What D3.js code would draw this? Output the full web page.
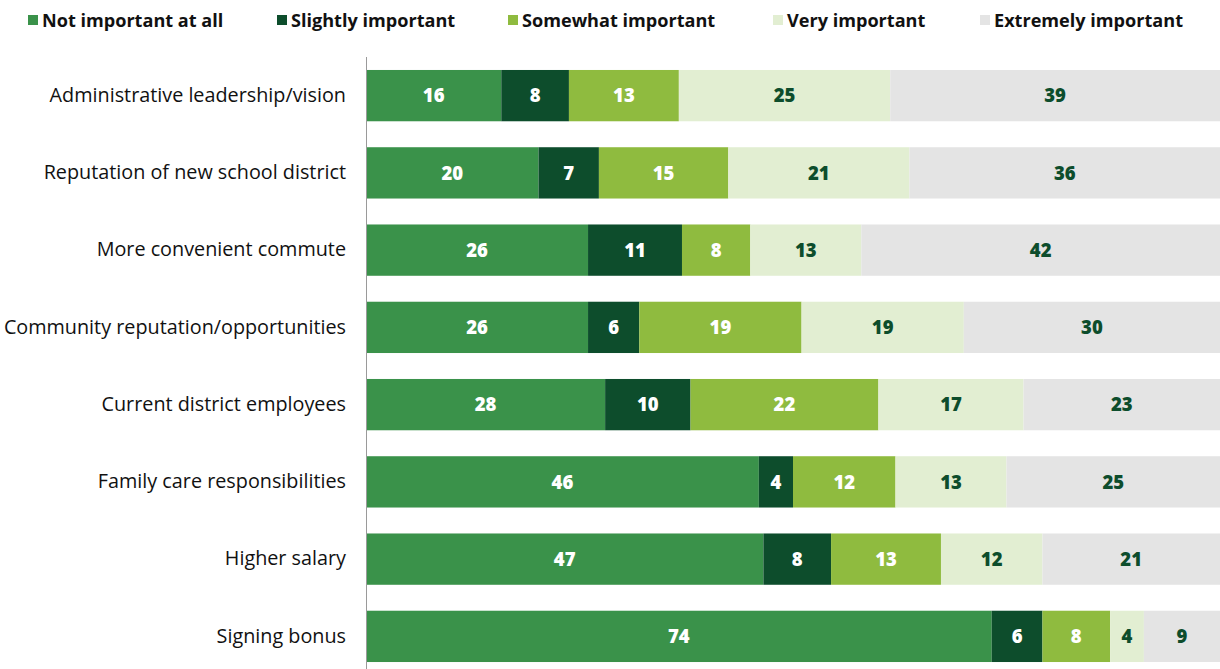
<!DOCTYPE html>
<html>
<head>
<meta charset="utf-8">
<script src="https://cdn.jsdelivr.net/npm/d3@7"></script>
<style>
  html, body { margin: 0; padding: 0; background: #fff; }
  svg { display: block; font-family: "Open Sans", Lato, sans-serif; }
</style>
</head>
<body>
<svg id="chart" width="1220" height="669"></svg>
<script>
// Survey reasons, top to bottom
const categories = [
  "Administrative leadership/vision",
  "Reputation of new school district",
  "More convenient commute",
  "Community reputation/opportunities",
  "Current district employees",
  "Family care responsibilities",
  "Higher salary",
  "Signing bonus"
];

const levels = [
  "Not important at all",
  "Slightly important",
  "Somewhat important",
  "Very important",
  "Extremely important"
];

// Percent of respondents for each importance level
const notImportant = [16, 20, 26, 26, 28, 46, 47, 74];
const slightly     = [8, 7, 11, 6, 10, 4, 8, 6];
const somewhat     = [13, 15, 8, 19, 22, 12, 13, 8];
const very         = [25, 21, 13, 19, 17, 13, 12, 4];
const extremely    = [39, 36, 42, 30, 23, 25, 21, 9];

const colors = ["#3a924a", "#0d4d2c", "#8fbb3f", "#e2eed2", "#e4e4e4"];
const labelColors = ["#ffffff", "#ffffff", "#ffffff", "#0d4d2c", "#0d4d2c"];

const series = [notImportant, slightly, somewhat, very, extremely];

const rows = categories.map((c, i) => {
  const r = { category: c };
  levels.forEach((l, j) => { r[l] = series[j][i]; });
  return r;
});

const svg = d3.select("#chart");
const W = 1220, H = 669;
const left = 366, right = 1220;

const y = d3.scaleBand()
  .domain(categories)
  .range([57, 675])
  .paddingInner(0.336)
  .paddingOuter(0.168);

const stacked = d3.stack().keys(levels)(rows);

// Each bar spans the full width; scale each row by its own total
const totals = rows.map(r => d3.sum(levels, l => r[l]));
const xFor = i => d3.scaleLinear().domain([0, totals[i]]).range([left, right]);

const layer = svg.append("g").selectAll("g")
  .data(stacked)
  .join("g")
  .attr("fill", (d, j) => colors[j]);

layer.selectAll("rect")
  .data(d => d.map((s, i) => ({ s, i })))
  .join("rect")
  .attr("x", d => xFor(d.i)(d.s[0]))
  .attr("width", d => xFor(d.i)(d.s[1]) - xFor(d.i)(d.s[0]))
  .attr("y", d => y(categories[d.i]))
  .attr("height", y.bandwidth());

// Value labels
svg.append("g").selectAll("g")
  .data(stacked)
  .join("g")
  .attr("fill", (d, j) => labelColors[j])
  .selectAll("text")
  .data(d => d.map((s, i) => ({ s, i, v: s[1] - s[0] })))
  .join("text")
  .attr("x", d => (xFor(d.i)(d.s[0]) + xFor(d.i)(d.s[1])) / 2)
  .attr("y", d => y(categories[d.i]) + y.bandwidth() / 2)
  .attr("dy", "0.36em")
  .attr("text-anchor", "middle")
  .attr("font-size", 18.5)
  .attr("font-weight", 800)
  .text(d => d.v);

// Category axis
const yAxis = svg.append("g")
  .attr("transform", `translate(${left},0)`)
  .call(d3.axisLeft(y).tickSize(0).tickPadding(20));
yAxis.select(".domain").attr("stroke", "#9a9a9a").attr("stroke-width", 1)
  .attr("d", `M0.5,57V${H}`);
yAxis.selectAll("text")
  .attr("font-size", 19.8)
  .attr("font-family", "'Open Sans', Lato, sans-serif")
  .attr("fill", "#111");

// Legend
const legendX = [28, 277, 508, 773, 980];
const legend = svg.append("g").selectAll("g")
  .data(levels)
  .join("g")
  .attr("transform", (d, j) => `translate(${legendX[j]},20)`);
legend.append("rect")
  .attr("x", 0).attr("y", -5)
  .attr("width", 10).attr("height", 10)
  .attr("fill", (d, j) => colors[j]);
legend.append("text")
  .attr("x", 14)
  .attr("dy", "0.36em")
  .attr("font-size", 18.1)
  .attr("font-weight", 700)
  .attr("fill", "#111")
  .text(d => d);
</script>
</body>
</html>
